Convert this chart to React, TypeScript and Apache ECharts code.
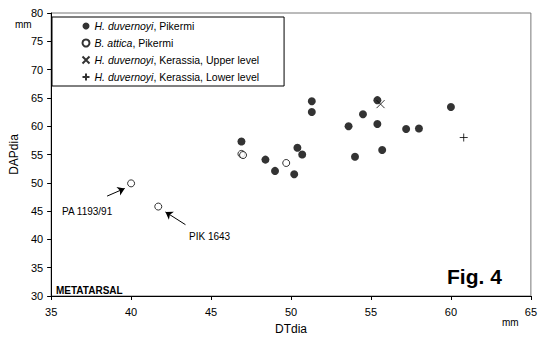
import React, { useEffect, useRef } from "react";
import * as echarts from "echarts";

const duvPikX = [46.9, 48.4, 49.0, 50.2, 50.4, 50.7, 51.3, 51.3, 53.6, 54.0, 54.5, 55.4, 55.4, 55.7, 57.2, 58.0, 60.0];
const duvPikY = [57.3, 54.1, 52.1, 51.5, 56.2, 55.0, 64.4, 62.5, 60.0, 54.6, 62.1, 64.6, 60.4, 55.8, 59.5, 59.6, 63.4];
const atticaX = [40.0, 41.7, 46.9, 47.0, 49.7];
const atticaY = [49.9, 45.8, 55.1, 54.9, 53.5];
const kerUpperX = [55.6];
const kerUpperY = [63.9];
const kerLowerX = [60.8];
const kerLowerY = [58.0];

const seriesNames = [
  "H. duvernoyi, Pikermi",
  "B. attica, Pikermi",
  "H. duvernoyi, Kerassia, Upper level",
  "H. duvernoyi, Kerassia, Lower level",
];

const arrowPA = [[38.5, 47.65], [39.6, 49.0]];
const arrowPIK = [[43.4, 42.6], [42.15, 44.85]];

const zip = (xs: number[], ys: number[]) => xs.map((x, i) => [x, ys[i]]);

const FONT = "Liberation Sans, Arial, sans-serif";
const CROSS = "path://M0,0L10,10M10,0L0,10";
const PLUS = "path://M5,0L5,10M0,5L10,5";

export default function App() {
  const ref = useRef<HTMLDivElement>(null);
  useEffect(() => {
    if (!ref.current) return;
    const chart = echarts.init(ref.current, undefined, { renderer: "svg" });
    chart.setOption({
      animation: false,
      textStyle: { fontFamily: FONT },
      grid: {
        left: 48,
        top: 13,
        right: 4,
        bottom: 38,
        show: true,
        borderColor: "#777",
        borderWidth: 1,
      },
      xAxis: {
        type: "value",
        min: 35,
        max: 65,
        interval: 5,
        name: "DTdia",
        nameLocation: "middle",
        nameGap: 27,
        nameTextStyle: { fontSize: 12, color: "#000", fontFamily: FONT },
        axisLine: { lineStyle: { color: "#000", width: 1 } },
        axisTick: { show: true, length: 4, lineStyle: { color: "#000" } },
        axisLabel: { color: "#000", fontSize: 11, margin: 10, fontFamily: FONT },
        splitLine: { show: false },
      },
      yAxis: {
        type: "value",
        min: 30,
        max: 80,
        interval: 5,
        name: "DAPdia",
        nameLocation: "middle",
        nameGap: 31,
        nameTextStyle: { fontSize: 12, color: "#000", fontFamily: FONT },
        axisLine: { show: true, lineStyle: { color: "#000", width: 1 } },
        axisTick: { show: true, length: 4, lineStyle: { color: "#000" } },
        axisLabel: { color: "#000", fontSize: 11, margin: 8, fontFamily: FONT },
        splitLine: { show: false },
      },
      legend: {
        orient: "vertical",
        left: 52,
        top: 17,
        padding: [3, 25, 3, 28],
        borderColor: "#000",
        borderWidth: 1,
        itemWidth: 7,
        itemHeight: 7,
        itemGap: 5,
        data: seriesNames,
        formatter: (name: string) => {
          const idx = name.indexOf(",");
          return "{i|" + name.slice(0, idx) + "}{n|" + name.slice(idx) + "}";
        },
        textStyle: {
          fontSize: 10.5,
          lineHeight: 12,
          color: "#000",
          fontFamily: FONT,
          rich: {
            i: { fontStyle: "italic", fontSize: 10.5, lineHeight: 12, fontFamily: FONT, color: "#000" },
            n: { fontSize: 10.5, lineHeight: 12, fontFamily: FONT, color: "#000" },
          },
        },
      },
      series: [
        {
          name: seriesNames[0],
          type: "scatter",
          symbol: "circle",
          symbolSize: 8,
          itemStyle: { color: "#000" },
          data: zip(duvPikX, duvPikY),
        },
        {
          name: seriesNames[1],
          type: "scatter",
          symbol: "circle",
          symbolSize: 7,
          itemStyle: { color: "#fff", borderColor: "#000", borderWidth: 1 },
          data: zip(atticaX, atticaY),
          markLine: {
            silent: true,
            symbol: ["none", "arrow"],
            symbolSize: 7,
            label: { show: false },
            lineStyle: { color: "#000", width: 1, type: "solid" },
            data: [
              [{ coord: arrowPA[0] }, { coord: arrowPA[1] }],
              [{ coord: arrowPIK[0] }, { coord: arrowPIK[1] }],
            ],
          },
        },
        {
          name: seriesNames[2],
          type: "scatter",
          symbol: CROSS,
          symbolSize: 8,
          itemStyle: { color: "none", borderColor: "#000", borderWidth: 1 },
          data: zip(kerUpperX, kerUpperY),
        },
        {
          name: seriesNames[3],
          type: "scatter",
          symbol: PLUS,
          symbolSize: 8,
          itemStyle: { color: "none", borderColor: "#000", borderWidth: 1 },
          data: zip(kerLowerX, kerLowerY),
        },
      ],
      graphic: [
        {
          type: "text",
          left: 15,
          top: 19,
          style: { text: "mm", fontSize: 10, fill: "#000", fontFamily: FONT },
        },
        {
          type: "text",
          left: 502,
          top: 317,
          style: { text: "mm", fontSize: 10, fill: "#000", fontFamily: FONT },
        },
        {
          type: "text",
          left: 62,
          top: 206,
          style: { text: "PA 1193/91", fontSize: 10, fill: "#000", fontFamily: FONT },
        },
        {
          type: "text",
          left: 189,
          top: 231,
          style: { text: "PIK 1643", fontSize: 10, fill: "#000", fontFamily: FONT },
        },
        {
          type: "text",
          left: 56,
          top: 285,
          style: { text: "METATARSAL", fontSize: 10, fontWeight: "bold", fill: "#000", fontFamily: FONT },
        },
        {
          type: "text",
          left: 447,
          top: 266,
          style: { text: "Fig. 4", fontSize: 21, fontWeight: "bold", fill: "#000", fontFamily: FONT },
        },
      ],
    });
    return () => chart.dispose();
  }, []);
  return <div ref={ref} style={{ width: 540, height: 340, position: "absolute", left: 0, top: 0 }} />;
}
